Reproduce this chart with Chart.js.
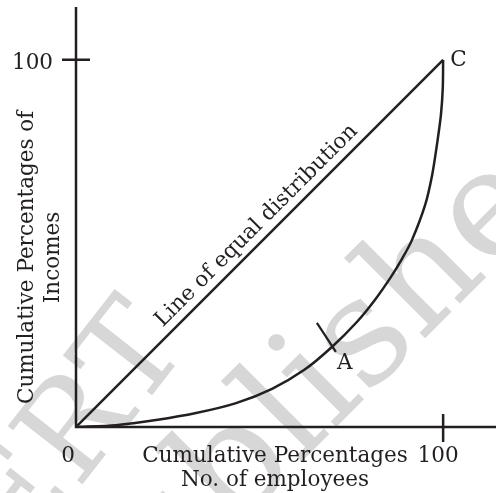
<!DOCTYPE html>
<html><head><meta charset="utf-8">
<script src="https://cdn.jsdelivr.net/npm/chart.js@4"></script>
<style>html,body{margin:0;padding:0;background:#fff;}canvas{display:block;}</style>
</head><body>
<canvas id="c" width="496" height="493"></canvas>
<script>
// ---- data ----
const curveX = [0, 10.9, 21.8, 32.7, 43.6, 53.4, 62.1, 69.7, 76.5, 81.4, 85.8, 88.8, 91.5, 95.1, 97.0, 98.3, 99.4, 99.9, 100];
const curveY = [0, 0.5, 1.9, 3.8, 6.5, 10.4, 15.5, 21.8, 28.6, 34.6, 40.9, 45.8, 50.9, 60.5, 68.6, 76.8, 85.0, 92.3, 100];
const equalX = [0, 100];
const equalY = [0, 100];
const tickValues = [0, 100];
const tickLabels = ['0', '100'];
const pointNames = ['A', 'C'];
const pointX = [69.7, 100];
const pointY = [21.8, 100];
const xTitle = ['Cumulative Percentages', 'No. of employees'];
const yTitle = ['Cumulative Percentages of', 'Incomes'];
const diagonalLabel = 'Line of equal distribution';
const watermark = ['NCERT', 'not to be republished'];
const AXIS_MAX = 114.4;

// ---- style ----
const INK = '#231f20';
const FAMILY = '"DejaVu Serif", "Liberation Serif", serif';
const mctx = document.createElement('canvas').getContext('2d');
mctx.font = '100px ' + FAMILY;
const FS = Math.round(100 * 265 / mctx.measureText(xTitle[0]).width * 10) / 10;
const F = FS + 'px ' + FAMILY;

function drawWatermarkLine(ctx, text, letterIdx, cx, cy, angleDeg, size, midFrac) {
  ctx.save();
  ctx.font = size + 'px ' + FAMILY;
  const pre = ctx.measureText(text.slice(0, letterIdx)).width;
  const lw = ctx.measureText(text[letterIdx]).width;
  ctx.translate(cx, cy);
  ctx.rotate(angleDeg * Math.PI / 180);
  ctx.textAlign = 'left';
  ctx.textBaseline = 'alphabetic';
  ctx.fillText(text, -(pre + lw / 2), size * midFrac);
  ctx.restore();
}

const drawPlugin = {
  id: 'drawPlugin',
  beforeDatasetsDraw(chart) {
    const ctx = chart.ctx;
    ctx.save();
    ctx.fillStyle = '#d7d7d7';
    drawWatermarkLine(ctx, watermark[0], 4, 128, 350, -52, 130, 0.36);
    const s = watermark[1];
    drawWatermarkLine(ctx, s, s.indexOf('blished'), 236, 470, -45, 150, 0.27);
    ctx.restore();
  },
  afterDatasetsDraw(chart) {
    const ctx = chart.ctx;
    const xs = chart.scales.x, ys = chart.scales.y;
    const ca = chart.chartArea;
    const x0 = xs.getPixelForValue(tickValues[0]);
    const y0 = ys.getPixelForValue(tickValues[0]);
    const x1 = xs.getPixelForValue(tickValues[1]);
    const y1 = ys.getPixelForValue(tickValues[1]);
    ctx.save();
    ctx.strokeStyle = INK;
    ctx.lineWidth = 2.5;
    ctx.lineCap = 'butt';
    ctx.beginPath();
    ctx.moveTo(x0, ca.top); ctx.lineTo(x0, y0 + 1.2);
    ctx.moveTo(x0 - 1.2, y0); ctx.lineTo(ca.right, y0);
    // ticks at 100
    ctx.moveTo(x1, y0 - 13); ctx.lineTo(x1, y0 + 15);
    ctx.moveTo(x0 - 14, y1); ctx.lineTo(x0 + 14, y1);
    ctx.stroke();

    // tick mark at A
    const ax = xs.getPixelForValue(pointX[0]), ay = ys.getPixelForValue(pointY[0]);
    ctx.lineWidth = 2.2;
    ctx.beginPath();
    ctx.moveTo(ax - 15, ay - 24); ctx.lineTo(ax + 4, ay + 5);
    ctx.stroke();

    ctx.fillStyle = INK;
    ctx.font = F;
    ctx.textBaseline = 'alphabetic';
    // tick labels
    ctx.textAlign = 'center';
    ctx.fillText(tickLabels[0], x0 - 8, y0 + 35);
    ctx.fillText(tickLabels[1], x1 - 5, y0 + 35);
    ctx.textAlign = 'right';
    ctx.fillText(tickLabels[1], x0 - 23, y1 + 9);
    // x title
    ctx.textAlign = 'center';
    ctx.fillText(xTitle[0], x0 + 199, y0 + 35);
    ctx.fillText(xTitle[1], x0 + 199, y0 + 59);
    // point labels
    ctx.textAlign = 'left';
    ctx.fillText(pointNames[0], ax + 5, ay + 22);
    const cx = xs.getPixelForValue(pointX[1]), cy = ys.getPixelForValue(pointY[1]);
    ctx.fillText(pointNames[1], cx + 7, cy + 6);
    // y title
    const ym = (y0 + y1) / 2 + 14;
    ctx.save();
    ctx.translate(33, ym); ctx.rotate(-Math.PI / 2);
    ctx.textAlign = 'center';
    ctx.fillText(yTitle[0], 0, 0);
    ctx.restore();
    ctx.save();
    ctx.translate(59, ym); ctx.rotate(-Math.PI / 2);
    ctx.textAlign = 'center';
    ctx.fillText(yTitle[1], 0, 0);
    ctx.restore();
    // diagonal label
    const t = 52;
    const px = xs.getPixelForValue(t), py = ys.getPixelForValue(t);
    const ang = Math.atan2(y1 - y0, x1 - x0);
    const off = 9;
    ctx.save();
    ctx.translate(px + off * Math.sin(ang), py - off * Math.cos(ang));
    ctx.rotate(ang);
    ctx.textAlign = 'center';
    ctx.fillText(diagonalLabel, 0, 0);
    ctx.restore();
    ctx.restore();
  }
};

new Chart(document.getElementById('c'), {
  type: 'scatter',
  data: {
    datasets: [
      {
        data: curveX.map((x, i) => ({ x, y: curveY[i] })),
        showLine: true, borderColor: INK, borderWidth: 2.5,
        pointRadius: 0, tension: 0.3, fill: false
      },
      {
        data: equalX.map((x, i) => ({ x, y: equalY[i] })),
        showLine: true, borderColor: INK, borderWidth: 2.5,
        pointRadius: 0, tension: 0, fill: false
      }
    ]
  },
  options: {
    responsive: false, animation: false, devicePixelRatio: 1,
    layout: { padding: { left: 76, right: 0, top: 7, bottom: 66 } },
    scales: {
      x: { type: 'linear', min: 0, max: AXIS_MAX, display: false },
      y: { type: 'linear', min: 0, max: AXIS_MAX, display: false }
    },
    plugins: { legend: { display: false }, tooltip: { enabled: false } }
  },
  plugins: [drawPlugin]
});
</script>
</body></html>
